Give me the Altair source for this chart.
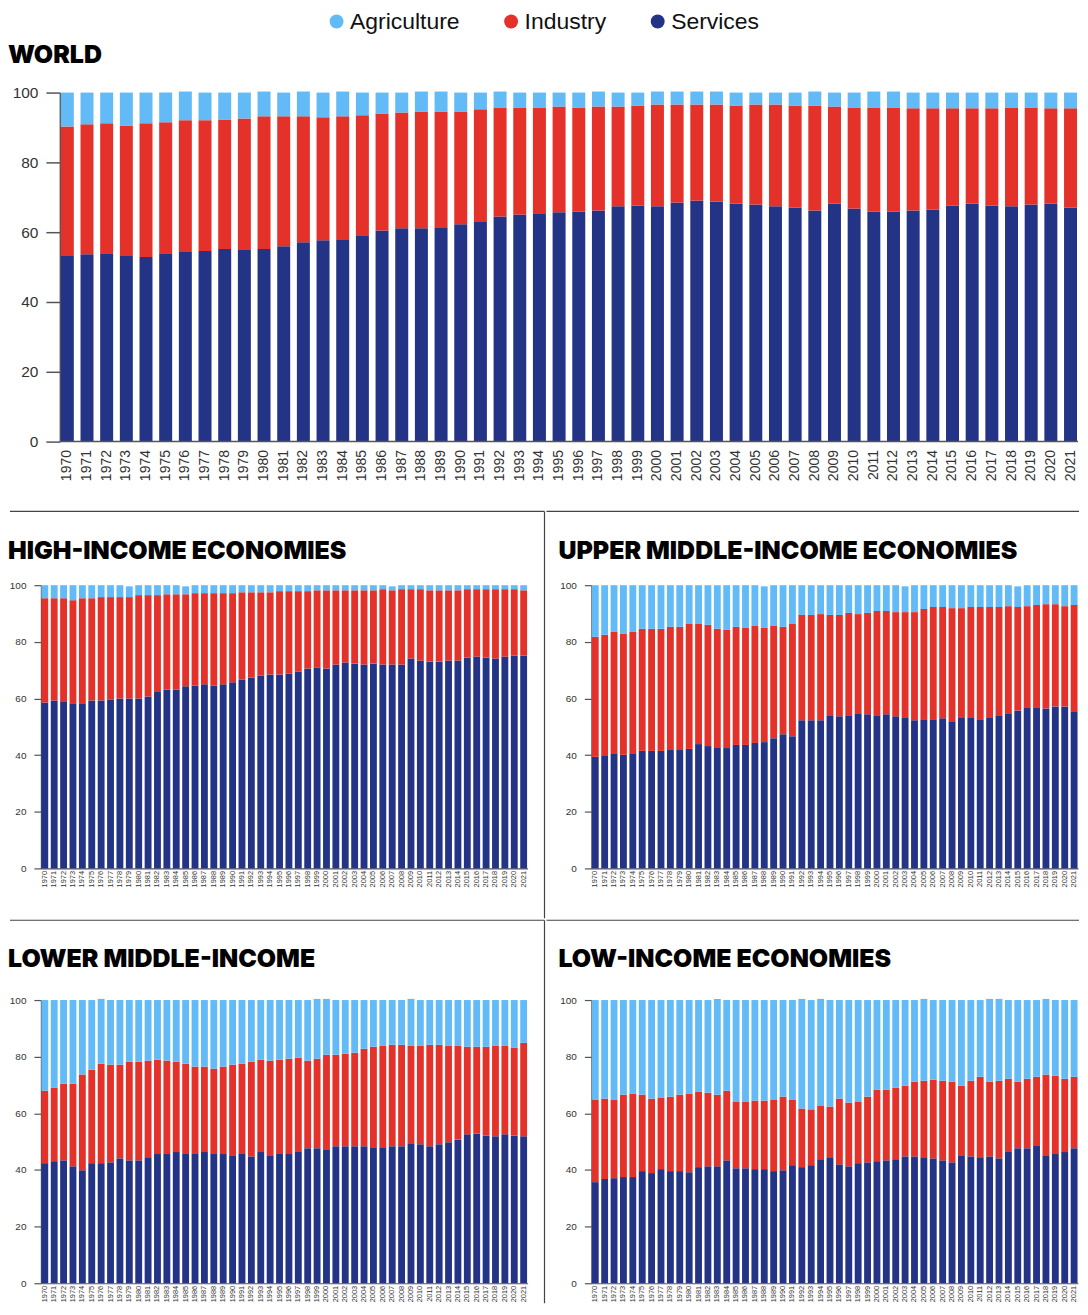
import altair as alt
import pandas as pd

years = [str(y) for y in range(1970, 2022)]
sectors = ["Agriculture", "Industry", "Services"]
sector_colors = ["#62BBF7", "#E4322B", "#233487"]
stack_rank = {"Services": 0, "Industry": 1, "Agriculture": 2}
y_ticks = [0, 20, 40, 60, 80, 100]

# ---- WORLD ----
world_services = [53.2, 53.7, 54.0, 53.2, 52.9, 54.0, 54.3, 54.6, 55.2, 54.9,
                  55.2, 56.0, 57.1, 57.7, 58.0, 59.1, 60.5, 61.1, 61.1, 61.4,
                  62.3, 63.1, 64.5, 65.1, 65.4, 65.7, 65.9, 66.2, 67.4, 67.6,
                  67.4, 68.5, 69.1, 68.8, 68.2, 67.9, 67.4, 67.1, 66.2, 68.2,
                  66.8, 65.9, 65.9, 66.2, 66.5, 67.6, 68.2, 67.6, 67.4, 67.9,
                  68.2, 67.1]
world_industry = [37.1, 37.2, 37.2, 37.4, 38.3, 37.5, 37.8, 37.5, 37.1, 37.7,
                  38.0, 37.2, 36.1, 35.2, 35.2, 34.4, 33.5, 33.2, 33.5, 33.2,
                  32.3, 32.1, 31.2, 30.6, 30.3, 30.3, 29.8, 29.8, 28.6, 28.7,
                  29.2, 28.1, 27.5, 27.8, 28.1, 28.7, 29.2, 29.2, 30.1, 27.8,
                  28.9, 29.8, 29.8, 29.3, 29.0, 27.9, 27.3, 27.9, 28.3, 27.8,
                  27.3, 28.4]
world_agriculture = [9.7, 9.1, 8.8, 9.4, 8.8, 8.5, 8.2, 7.9, 7.7, 7.4,
                     7.1, 6.8, 7.1, 7.1, 7.1, 6.5, 6.0, 5.7, 5.7, 5.7,
                     5.4, 4.8, 4.6, 4.3, 4.3, 4.0, 4.3, 4.3, 4.0, 3.7,
                     3.7, 3.7, 3.7, 3.7, 3.7, 3.4, 3.4, 3.7, 4.0, 4.0,
                     4.3, 4.6, 4.6, 4.5, 4.5, 4.5, 4.5, 4.5, 4.3, 4.3,
                     4.5, 4.5]

# ---- HIGH-INCOME ----
high_services = [58.6, 59.3, 59.0, 58.3, 58.3, 59.3, 59.3, 59.6, 60.0, 60.0,
                 60.0, 60.7, 62.3, 63.2, 63.2, 64.3, 64.6, 65.0, 64.6, 65.0,
                 65.7, 66.7, 67.4, 68.1, 68.5, 68.5, 68.8, 69.5, 70.6, 70.9,
                 70.6, 72.0, 72.7, 72.3, 72.0, 72.3, 72.0, 72.0, 72.0, 74.1,
                 73.4, 73.0, 73.0, 73.4, 73.4, 74.4, 74.8, 74.4, 74.1, 74.8,
                 75.1, 75.1]
high_industry = [36.8, 36.1, 36.4, 36.4, 37.1, 36.1, 36.5, 36.2, 35.8, 35.8,
                 36.5, 35.8, 34.2, 33.6, 33.6, 32.5, 32.6, 32.2, 32.6, 32.2,
                 31.5, 30.8, 30.1, 29.4, 29.0, 29.4, 29.1, 28.4, 27.3, 27.3,
                 27.6, 26.2, 25.5, 25.9, 26.2, 25.9, 26.6, 26.2, 26.6, 24.5,
                 25.2, 25.2, 25.2, 24.8, 24.8, 24.2, 23.8, 24.2, 24.5, 23.8,
                 23.5, 23.1]
high_agriculture = [4.6, 4.6, 4.6, 5.3, 4.6, 4.6, 4.2, 4.2, 4.2, 3.8,
                    3.5, 3.5, 3.5, 3.2, 3.2, 2.8, 2.8, 2.8, 2.8, 2.8,
                    2.8, 2.5, 2.5, 2.5, 2.5, 2.1, 2.1, 2.1, 2.1, 1.8,
                    1.8, 1.8, 1.8, 1.8, 1.8, 1.8, 1.4, 1.4, 1.4, 1.4,
                    1.4, 1.8, 1.8, 1.8, 1.8, 1.4, 1.4, 1.4, 1.4, 1.4,
                    1.4, 1.8]

# ---- UPPER MIDDLE-INCOME ----
upper_services = [39.4, 39.7, 40.4, 40.1, 40.4, 41.5, 41.5, 41.5, 41.8, 41.8,
                  42.2, 43.9, 43.2, 42.5, 42.5, 43.6, 43.6, 44.3, 44.6, 46.0,
                  47.4, 46.7, 52.3, 52.3, 52.3, 54.1, 53.7, 54.1, 54.8, 54.4,
                  54.1, 54.4, 53.7, 53.4, 52.3, 52.7, 52.7, 53.0, 52.0, 53.4,
                  53.4, 52.7, 53.4, 54.1, 54.8, 55.8, 56.9, 56.9, 56.5, 57.2,
                  57.2, 55.5]
upper_industry = [42.4, 42.8, 43.1, 42.7, 43.1, 43.1, 43.1, 43.1, 43.5, 43.5,
                  44.1, 42.4, 42.8, 42.1, 41.7, 41.7, 41.3, 41.3, 40.3, 39.6,
                  37.9, 39.6, 37.2, 37.2, 37.5, 35.4, 35.8, 36.1, 35.0, 35.8,
                  36.8, 36.5, 36.8, 37.1, 38.2, 38.9, 39.6, 39.3, 39.9, 38.5,
                  38.9, 39.6, 38.9, 38.2, 37.8, 36.5, 35.7, 36.1, 36.8, 36.1,
                  35.4, 37.5]
upper_agriculture = [18.2, 17.5, 16.5, 17.2, 16.5, 15.4, 15.4, 15.4, 14.7, 14.7,
                     13.7, 13.7, 14.0, 15.4, 15.8, 14.7, 15.1, 14.4, 14.7, 14.4,
                     14.7, 13.7, 10.5, 10.5, 10.2, 10.5, 10.5, 9.8, 10.2, 9.8,
                     9.1, 9.1, 9.5, 9.1, 9.5, 8.4, 7.7, 7.7, 8.1, 8.1,
                     7.7, 7.7, 7.7, 7.7, 7.4, 7.3, 7.4, 7.0, 6.7, 6.7,
                     7.4, 7.0]

# ---- LOWER MIDDLE-INCOME ----
lower_services = [42.4, 43.1, 43.4, 41.3, 39.9, 42.4, 42.4, 42.7, 44.1, 43.4,
                  43.4, 44.5, 45.6, 45.6, 46.3, 45.9, 45.9, 46.3, 45.9, 45.6,
                  45.2, 45.9, 44.8, 46.3, 45.2, 45.9, 45.6, 46.6, 47.7, 47.7,
                  47.3, 48.4, 48.4, 48.4, 48.4, 48.0, 48.0, 48.4, 48.4, 49.4,
                  49.1, 48.4, 49.1, 49.8, 50.8, 52.6, 52.9, 52.2, 51.9, 52.6,
                  52.2, 51.9]
lower_industry = [25.6, 26.0, 27.1, 29.2, 33.8, 33.0, 35.1, 34.5, 33.1, 34.8,
                  34.8, 34.1, 33.3, 33.0, 31.9, 31.6, 30.6, 30.2, 29.9, 30.9,
                  32.0, 31.6, 33.4, 32.6, 33.4, 33.0, 33.7, 33.0, 30.9, 31.6,
                  33.4, 32.3, 32.6, 33.0, 34.4, 35.5, 35.8, 35.8, 35.8, 34.4,
                  34.7, 35.8, 35.1, 34.0, 33.0, 30.9, 30.6, 31.3, 31.9, 31.2,
                  30.9, 33.0]
lower_agriculture = [32.0, 30.9, 29.5, 29.5, 26.3, 24.6, 22.9, 22.8, 22.8, 21.8,
                     21.8, 21.4, 21.1, 21.4, 21.8, 22.5, 23.5, 23.5, 24.2, 23.5,
                     22.8, 22.5, 21.8, 21.1, 21.4, 21.1, 20.7, 20.4, 21.4, 21.1,
                     19.7, 19.3, 19.0, 18.6, 17.2, 16.5, 16.2, 15.8, 15.8, 16.6,
                     16.2, 15.8, 15.8, 16.2, 16.2, 16.5, 16.5, 16.5, 16.2, 16.2,
                     16.9, 15.1]

# ---- LOW-INCOME ----
low_services = [35.7, 36.8, 37.1, 37.5, 37.5, 39.6, 38.9, 40.3, 39.6, 39.6,
                39.2, 41.0, 41.3, 41.3, 43.4, 40.6, 40.6, 40.3, 40.3, 39.6,
                39.9, 41.7, 41.0, 41.7, 43.8, 44.5, 42.0, 41.3, 42.4, 42.7,
                43.1, 43.4, 43.8, 44.8, 44.8, 44.5, 44.1, 43.4, 42.7, 45.2,
                44.8, 44.5, 44.8, 44.1, 46.6, 47.7, 47.7, 48.7, 45.2, 45.6,
                46.3, 47.7]
low_industry = [29.2, 28.4, 27.8, 29.1, 29.5, 27.0, 26.3, 25.3, 26.3, 27.0,
                27.8, 26.7, 26.0, 25.3, 24.6, 23.6, 23.6, 24.2, 24.2, 25.3,
                26.0, 23.2, 20.7, 19.7, 19.0, 17.9, 23.2, 22.5, 21.8, 23.2,
                25.3, 25.0, 25.3, 25.0, 26.4, 27.0, 27.8, 28.1, 28.5, 24.6,
                26.7, 28.4, 26.4, 27.4, 25.6, 23.5, 24.5, 24.2, 28.5, 27.7,
                25.9, 25.2]
low_agriculture = [35.1, 34.8, 35.1, 33.4, 33.0, 33.4, 34.8, 34.4, 34.1, 33.4,
                   33.0, 32.3, 32.7, 33.8, 32.0, 35.8, 35.8, 35.5, 35.5, 35.1,
                   34.1, 35.1, 38.7, 38.6, 37.6, 37.6, 34.8, 36.2, 35.8, 34.1,
                   31.6, 31.6, 30.9, 30.2, 28.8, 28.9, 28.1, 28.5, 28.8, 30.2,
                   28.5, 27.1, 29.2, 28.9, 27.8, 28.8, 27.8, 27.1, 26.7, 26.7,
                   27.8, 27.1]

LABEL_FONT = "Liberation Sans"
TITLE_FONT = "Inter"
SEP = "#444444"
AXIS = "#555555"


def to_frame(services, industry, agriculture):
    rows = []
    for i, yr in enumerate(years):
        for name, vals in (("Services", services), ("Industry", industry),
                           ("Agriculture", agriculture)):
            rows.append({"year": yr, "sector": name, "share": vals[i],
                         "rank": stack_rank[name]})
    return pd.DataFrame(rows)


legend = alt.Legend(title=None, orient="none", direction="horizontal",
                    legendX=285, legendY=-83, padding=0, symbolType="circle",
                    symbolSize=195, symbolStrokeWidth=0,
                    labelFont=LABEL_FONT, labelFontSize=23, labelColor="#111",
                    labelOffset=2, columnPadding=40, labelLimit=300)
color_enc = alt.Color("sector:N",
                      scale=alt.Scale(domain=sectors, range=sector_colors),
                      legend=legend)

one = pd.DataFrame({"k": [0]})


def hrule(x1, x2, y, color=SEP, width=1.2):
    return alt.Chart(one).mark_rule(color=color, strokeWidth=width).encode(
        x=alt.value(x1), x2=alt.value(x2), y=alt.value(y))


def vrule(x, y1, y2, color=SEP, width=1.2):
    return alt.Chart(one).mark_rule(color=color, strokeWidth=width).encode(
        x=alt.value(x), y=alt.value(y1), y2=alt.value(y2))


def bars(df, big, x_range=None, y_offset=0):
    if big:
        xaxis = alt.Axis(title=None, labelAngle=-90, labelFontSize=14,
                         labelPadding=8, ticks=False, domain=False,
                         labelColor="#333", labelFont=LABEL_FONT)
        yaxis = alt.Axis(title=None, values=y_ticks, labelFontSize=15.5,
                         tickSize=14, labelPadding=8, domainColor=AXIS,
                         domainWidth=1.5, tickColor=AXIS, tickWidth=1.5,
                         labelColor="#333", labelFont=LABEL_FONT, grid=False,
                         offset=y_offset)
        pad = 0.34
    else:
        xaxis = alt.Axis(title=None, labelAngle=-90, labelFontSize=7.5,
                         labelPadding=2, ticks=False, domainColor=AXIS,
                         domainWidth=1.2, labelColor="#333",
                         labelFont=LABEL_FONT)
        yaxis = alt.Axis(title=None, values=y_ticks, labelFontSize=10,
                         tickSize=7, labelPadding=8, domainColor=AXIS,
                         domainWidth=1.2, tickColor=AXIS, tickWidth=1.2,
                         labelColor="#333", labelFont=LABEL_FONT, grid=False)
        pad = 0.27
    if x_range is not None:
        xscale = alt.Scale(paddingInner=pad, paddingOuter=0.05, range=x_range)
    else:
        xscale = alt.Scale(paddingInner=pad, paddingOuter=0.05)
    return alt.Chart(df).mark_bar().encode(
        x=alt.X("year:N", sort=years, scale=xscale, axis=xaxis),
        y=alt.Y("share:Q", stack="zero",
                scale=alt.Scale(domain=[0, 100], nice=False), axis=yaxis),
        color=color_enc,
        order=alt.Order("rank:Q", sort="ascending"),
        tooltip=["year:N", "sector:N", "share:Q"],
    )


def title(text, dx, offset):
    return alt.TitleParams(text=text, anchor="start", frame="group", dx=dx,
                           offset=offset, fontSize=25, font=TITLE_FONT,
                           fontWeight=900, baseline="alphabetic",
                           color="#000")


W_WORLD = 1040
H_WORLD = 350
W_SMALL = 488
H_SMALL = 284

world = alt.layer(
    bars(to_frame(world_services, world_industry, world_agriculture), True,
         x_range=[19, W_WORLD], y_offset=-19),
    hrule(19, W_WORLD, H_WORLD, color=AXIS, width=1.5),
).properties(width=W_WORLD, height=H_WORLD, title=title("WORLD", -33, -2.25))

high = alt.layer(
    bars(to_frame(high_services, high_industry, high_agriculture), False),
    hrule(-31, 505, -74),
    vrule(505, -74, H_SMALL + 50),
).properties(width=W_SMALL, height=H_SMALL,
             title=title("HIGH-INCOME ECONOMIES", -33, -73.5))

upper = alt.layer(
    bars(to_frame(upper_services, upper_industry, upper_agriculture), False),
    hrule(-45, W_SMALL + 1, -74),
).properties(width=W_SMALL, height=H_SMALL,
             title=title("UPPER MIDDLE-INCOME ECONOMIES", -33, -73.5))

lower = alt.layer(
    bars(to_frame(lower_services, lower_industry, lower_agriculture), False),
    hrule(-31, 505, -80),
    vrule(505, -80, H_SMALL + 20),
).properties(width=W_SMALL, height=H_SMALL,
             title=title("LOWER MIDDLE-INCOME", -33, -72.5))

low = alt.layer(
    bars(to_frame(low_services, low_industry, low_agriculture), False),
    hrule(-45, W_SMALL + 1, -80),
).properties(width=W_SMALL, height=H_SMALL,
             title=title("LOW-INCOME ECONOMIES", -33, -72.5))

rows = alt.vconcat(
    alt.hconcat(high, upper, spacing=0),
    alt.hconcat(lower, low, spacing=0),
    spacing=0,
)

chart = alt.vconcat(
    world,
    rows,
    spacing=29,
).properties(
    padding={"left": 0, "top": 0, "right": 0, "bottom": 0}
).configure_view(stroke=None).configure_axis(grid=False)

chart.save("out.html", embed_options={"renderer": "svg", "actions": False})
